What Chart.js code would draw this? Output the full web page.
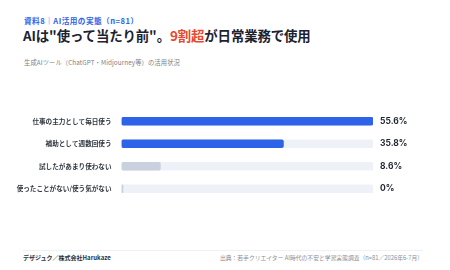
<!DOCTYPE html>
<html>
<head>
<meta charset="utf-8">
<script src="https://cdn.jsdelivr.net/npm/chart.js@4"></script>
<style>
  html, body { margin: 0; padding: 0; background: #fff; }
  body { width: 450px; height: 270px; position: relative; overflow: hidden;
         font-family: "Noto Sans CJK JP", "Noto Sans", sans-serif; }
  .t { position: absolute; white-space: nowrap; line-height: 1; }
  #tag { left: 24px; top: 17px; font-size: 7.6px; font-weight: 700; color: #2d63e8; letter-spacing: 0.5px; }
  #title { left: 23px; top: 29px; font-size: 13.4px; font-weight: 700; color: #1c2230; letter-spacing: -0.1px; }
  #title span { color: #e8482f; }
  #sub { left: 24px; top: 60px; font-size: 6.3px; color: #7a7f88; letter-spacing: 0.1px; }
  #rule { position: absolute; left: 23px; right: 27px; top: 250px; height: 1px; background: #f0f1f4; }
  #brand { left: 23px; top: 255px; font-size: 6px; font-weight: 700; color: #2a2f38; }
  #src { right: 27px; top: 255px; font-size: 5.8px; color: #8a8f98; }
  #wrap { position: absolute; left: 0; top: 96px; width: 450px; height: 118px; }
</style>
</head>
<body>
<div class="t" id="tag">資料8｜AI活用の実態（n=81）</div>
<div class="t" id="title">AIは"使って当たり前"。<span>9割超</span>が日常業務で使用</div>
<div class="t" id="sub">生成AIツール（ChatGPT・Midjourney等）の活用状況</div>
<div id="wrap"><canvas id="barChart"></canvas></div>
<div id="rule"></div>
<div class="t" id="brand">デザジュク／株式会社Harukaze</div>
<div class="t" id="src">出典：若手クリエイター AI時代の不安と学習実態調査（n=81／2026年6-7月）</div>
<script>
const categories = ['仕事の主力として毎日使う', '補助として週数回使う', '試したがあまり使わない', '使ったことがない/使う気がない'];
const values = [55.6, 35.8, 8.6, 0];
const valueLabels = ['55.6%', '35.8%', '8.6%', '0%'];
const barColors = ['#2d63e8', '#2d63e8', '#c9d1de', '#c9d1de'];

const maxValue = Math.max(...values);

const ctx = document.getElementById('barChart').getContext('2d');
new Chart(ctx, {
  type: 'bar',
  data: {
    labels: categories,
    datasets: [
      {
        label: 'value',
        data: values,
        backgroundColor: barColors,
        borderRadius: 2,
        borderSkipped: false,
        barThickness: 8,
        minBarLength: 1.5,
        grouped: false,
        order: 0
      },
      {
        label: 'track',
        data: values.map(() => maxValue),
        backgroundColor: '#eef1f7',
        borderRadius: 2,
        borderSkipped: false,
        barThickness: 8,
        grouped: false,
        order: 1
      }
    ]
  },
  options: {
    indexAxis: 'y',
    responsive: true,
    maintainAspectRatio: false,
    animation: false,
    layout: { padding: 0 },
    plugins: { legend: { display: false }, tooltip: { enabled: false } },
    scales: {
      x: { display: false, min: 0, max: maxValue },
      y: {
        position: 'left',
        grid: { display: false, drawTicks: false },
        border: { display: false },
        ticks: {
          color: '#333842',
          padding: 10,
          font: { family: '"Noto Sans CJK JP"', size: 6.6, weight: '600' }
        },
        afterFit: (axis) => { axis.width = 121.5; }
      },
      yR: {
        type: 'category',
        position: 'right',
        labels: valueLabels,
        grid: { display: false, drawTicks: false },
        border: { display: false },
        ticks: {
          color: '#1f2530',
          padding: 7,
          font: { family: 'Inter, "Noto Sans"', size: 8.5, weight: 'bold' }
        },
        afterFit: (axis) => { axis.width = 77; }
      }
    }
  }
});
</script>
</body>
</html>
